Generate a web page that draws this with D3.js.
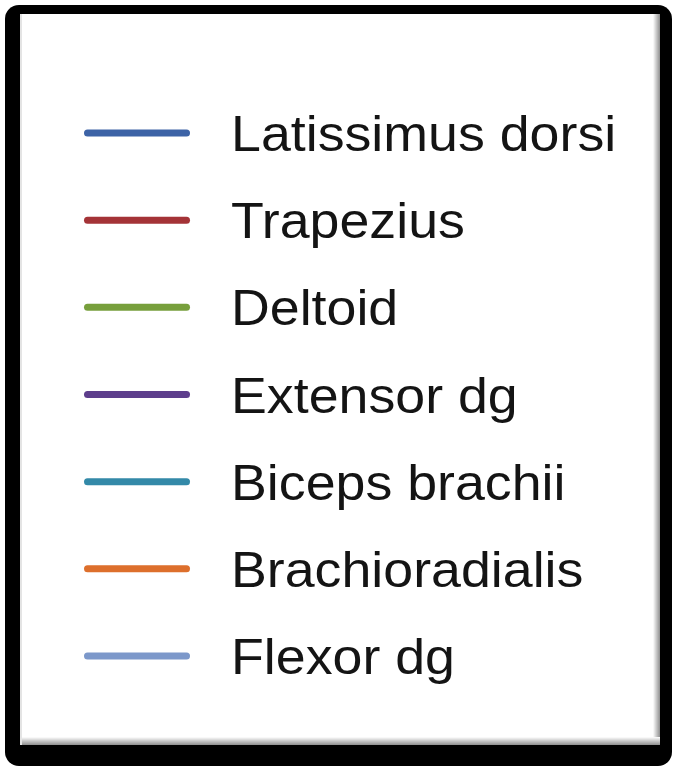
<!DOCTYPE html>
<html>
<head>
<meta charset="utf-8">
<script src="https://cdn.jsdelivr.net/npm/d3@7"></script>
<style>
  body { margin: 0; background: #fff; }
  text { font-family: "Liberation Sans", Arial, sans-serif; }
</style>
</head>
<body>
<div id="legend"></div>
<script>
// legend entries
let muscles = ["Latissimus dorsi", "Trapezius", "Deltoid", "Extensor dg",
  "Biceps brachii", "Brachioradialis", "Flexor dg"];
let lineColors = ["#3d63a6", "#a43337", "#779f3c", "#5d3e8c",
  "#3389a8", "#dd6f2c", "#7c98ca"];

let W = 680, H = 772;

let svg = d3.select("#legend")
  .append("svg")
  .attr("width", W)
  .attr("height", H);

let defs = svg.append("defs");
let gr = defs.append("linearGradient").attr("id", "bevR").attr("x1", 0).attr("x2", 1);
gr.append("stop").attr("offset", 0).attr("stop-color", "#fff");
gr.append("stop").attr("offset", 1).attr("stop-color", "#8f8f8f");
let gb = defs.append("linearGradient").attr("id", "bevB").attr("x1", 0).attr("x2", 0).attr("y1", 0).attr("y2", 1);
gb.append("stop").attr("offset", 0).attr("stop-color", "#fff");
gb.append("stop").attr("offset", 1).attr("stop-color", "#8f8f8f");

// black frame + white box
svg.append("rect")
  .attr("x", 5).attr("y", 5)
  .attr("width", 667).attr("height", 761)
  .attr("rx", 14)
  .attr("fill", "#000");
svg.append("rect")
  .attr("x", 20).attr("y", 14)
  .attr("width", 640).attr("height", 731)
  .attr("fill", "#fff");
// bevel on right and bottom
svg.append("rect")
  .attr("x", 653).attr("y", 14)
  .attr("width", 7).attr("height", 731)
  .attr("fill", "url(#bevR)");
svg.append("rect")
  .attr("x", 20).attr("y", 737)
  .attr("width", 640).attr("height", 8)
  .attr("fill", "url(#bevB)");
svg.append("rect")
  .attr("x", 20).attr("y", 14)
  .attr("width", 2).attr("height", 731)
  .attr("fill", "#e4e4e4");

let y = d3.scalePoint()
  .domain(muscles)
  .range([133, 656]);

let color = d3.scaleOrdinal()
  .domain(muscles)
  .range(lineColors);

let rows = svg.append("g")
  .selectAll("g")
  .data(muscles)
  .enter()
  .append("g")
  .attr("transform", function (d) { return "translate(0," + y(d) + ")"; });

rows.append("line")
  .attr("x1", 87.5).attr("x2", 186.5)
  .attr("y1", 0).attr("y2", 0)
  .attr("stroke", function (d) { return color(d); })
  .attr("stroke-width", 7)
  .attr("stroke-linecap", "round");

rows.append("text")
  .attr("transform", "translate(231,18) scale(1.075,1)")
  .attr("font-size", 50)
  .attr("fill", "#141414")
  .text(function (d) { return d; });
</script>
</body>
</html>
